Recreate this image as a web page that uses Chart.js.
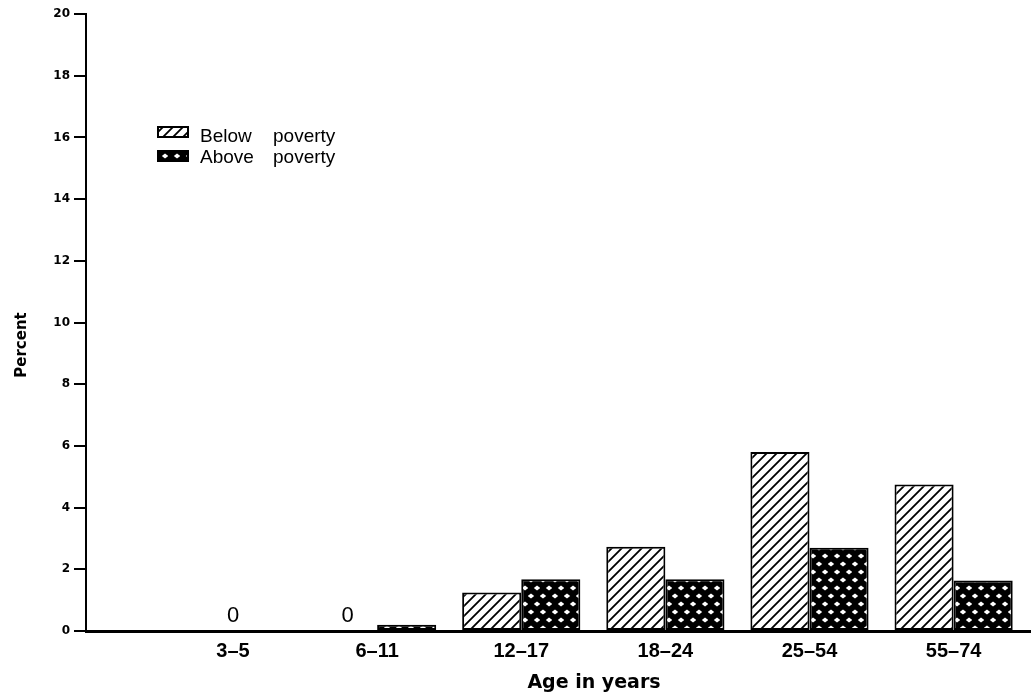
<!DOCTYPE html>
<html><head><meta charset="utf-8">
<script src="https://cdn.jsdelivr.net/npm/chart.js@4.4.0/dist/chart.umd.min.js"></script>
<style>html,body{margin:0;padding:0;background:#fff;overflow:hidden}canvas{display:block}</style>
</head><body>
<canvas id="c" width="1035" height="699"></canvas>
<script>
const categories = ['3–5', '6–11', '12–17', '18–24', '25–54', '55–74'];
const belowPoverty = [0, 0, 1.25, 2.73, 5.8, 4.75];
const abovePoverty = [0, 0.2, 1.68, 1.68, 2.7, 1.64];
const seriesLabels = ['Below poverty', 'Above poverty'];
const yTicks = [0, 2, 4, 6, 8, 10, 12, 14, 16, 18, 20];
const zeroLabels = ['0', '0', '', '', '', ''];
const xTitle = 'Age in years';
const yTitle = 'Percent';

const canvas = document.getElementById('c');
const ctx = canvas.getContext('2d');

function hatchPattern() {
  const c = document.createElement('canvas'); c.width = 10; c.height = 10;
  const g = c.getContext('2d');
  g.fillStyle = '#fff'; g.fillRect(0, 0, 10, 10);
  g.strokeStyle = '#000'; g.lineWidth = 1.8;
  g.beginPath();
  g.moveTo(-2, 12); g.lineTo(12, -2);
  g.moveTo(-2, 2); g.lineTo(2, -2);
  g.moveTo(8, 12); g.lineTo(12, 8);
  g.stroke();
  return ctx.createPattern(c, 'repeat');
}
function dotPattern() {
  const c = document.createElement('canvas'); c.width = 12; c.height = 16;
  const g = c.getContext('2d');
  g.fillStyle = '#000'; g.fillRect(0, 0, 12, 16);
  g.fillStyle = '#fff';
  const d = (x, y) => { g.beginPath(); g.moveTo(x - 3.2, y); g.lineTo(x, y - 2.4); g.lineTo(x + 3.2, y); g.lineTo(x, y + 2.4); g.closePath(); g.fill(); };
  d(3, 4); d(9, 12);
  return ctx.createPattern(c, 'repeat');
}
const patterns = [hatchPattern(), dotPattern()];

const overlay = {
  id: 'overlay',
  afterDraw(chart) {
    const g = chart.ctx;
    g.save();
    // legend
    chart.data.datasets.forEach((ds, i) => {
      const bx = 158, by = 127 + i * 24;
      g.fillStyle = ds.backgroundColor; g.fillRect(bx, by, 30, 10);
      g.strokeStyle = '#000'; g.lineWidth = 2; g.strokeRect(bx, by, 30, 10);
      g.fillStyle = '#000'; g.font = '19px "Liberation Sans"';
      g.textAlign = 'left'; g.textBaseline = 'alphabetic';
      const words = ds.label.split(' ');
      g.fillText(words[0], 200, 142 + i * 21);
      g.fillText(words.slice(1).join(' '), 273, 142 + i * 21);
    });
    // zero labels
    const m0 = chart.getDatasetMeta(0), m1 = chart.getDatasetMeta(1);
    g.font = '22px "Liberation Sans"'; g.textAlign = 'center'; g.textBaseline = 'alphabetic';
    zeroLabels.forEach((t, i) => {
      if (!t) return;
      const x = (belowPoverty[i] === 0 && abovePoverty[i] === 0) ? (m0.data[i].x + m1.data[i].x) / 2 : m0.data[i].x;
      g.fillText(t, x, 622);
    });
    // axis titles
    g.font = 'bold 19px "DejaVu Sans"'; g.textAlign = 'center';
    g.fillText(xTitle, 594, 688);
    g.save();
    g.translate(26, 345); g.rotate(-Math.PI / 2);
    g.font = 'bold 15px "DejaVu Sans"';
    g.fillText(yTitle, 0, 0);
    g.restore();
    g.restore();
  }
};

new Chart(canvas, {
  type: 'bar',
  data: {
    datasets: [
      { label: seriesLabels[0], data: belowPoverty.map((v, i) => ({ x: i, y: v })), backgroundColor: patterns[0], borderColor: '#000', borderWidth: 2, borderSkipped: false },
      { label: seriesLabels[1], data: abovePoverty.map((v, i) => ({ x: i, y: v })), backgroundColor: patterns[1], borderColor: '#000', borderWidth: 2, borderSkipped: false }
    ]
  },
  options: {
    responsive: false,
    animation: false,
    events: [],
    categoryPercentage: 0.82,
    barPercentage: 1.0,
    layout: { padding: { left: 0, top: 14, right: 5, bottom: 0 } },
    plugins: { legend: { display: false }, tooltip: { enabled: false } },
    scales: {
      x: {
        type: 'linear',
        offset: false,
        min: -1.02, max: 5.53,
        afterBuildTicks: s => { s.ticks = categories.map((c, i) => ({ value: i })); },
        afterFit: s => { s.height = 68; },
        ticks: { callback: v => categories[v], color: '#000', font: { family: 'Liberation Sans', weight: 'bold', size: 20 }, padding: 8, maxRotation: 0, autoSkip: false },
        grid: { display: true, offset: false, drawOnChartArea: false, drawTicks: false, tickLength: 0 },
        border: { display: true, color: '#000', width: 3 }
      },
      y: {
        min: 0, max: 20,
        afterBuildTicks: s => { s.ticks = yTicks.map(v => ({ value: v })); },
        afterFit: s => { s.width = 86; },
        ticks: { color: '#000', font: { family: 'DejaVu Sans', weight: 'bold', size: 12 }, padding: 4 },
        grid: { display: true, drawOnChartArea: false, drawTicks: true, tickLength: 12, color: '#000', lineWidth: 2 },
        border: { display: true, color: '#000', width: 2 }
      }
    }
  },
  plugins: [overlay]
});
</script>
</body></html>
